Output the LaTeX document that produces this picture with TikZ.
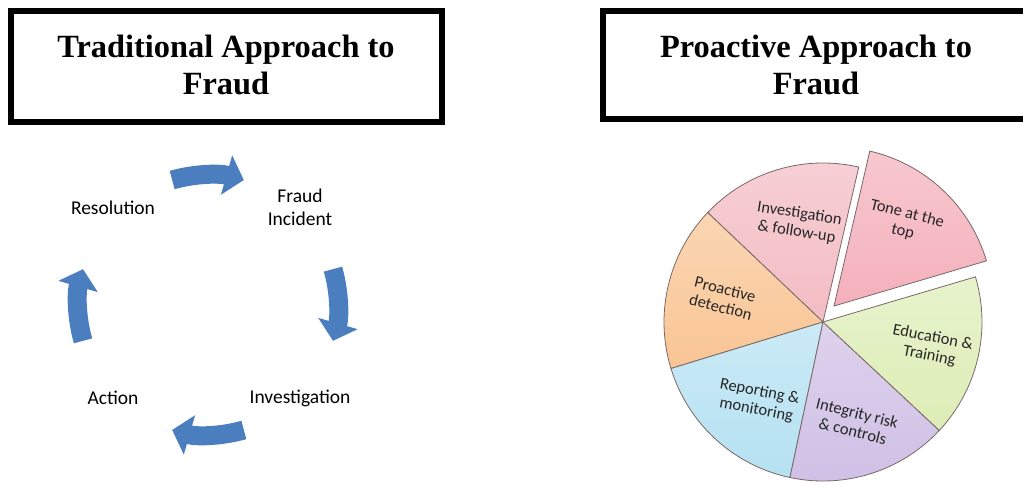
\documentclass[tikz,border=0pt]{standalone}
\usepackage{fontspec}
\setmainfont{Liberation Serif}
\newfontfamily\carl{Carlito}
\usepackage{tikz}
\usetikzlibrary{arrows.meta}
\definecolor{cycblue}{HTML}{4A7EBF}
\definecolor{toneP}{HTML}{F4B0BB}
\definecolor{invP}{HTML}{F3BCC3}
\definecolor{peach}{HTML}{F9C594}
\definecolor{skyb}{HTML}{B5E1F2}
\definecolor{lav}{HTML}{CFBFE5}
\definecolor{lime}{HTML}{DDEDB6}
\definecolor{rim}{HTML}{7A6868}

\begin{document}
\begin{tikzpicture}[x=1pt,y=1pt,
  head/.style={font=\fontsize{32.4}{37}\selectfont\bfseries,align=center},
  cyclab/.style={font=\carl\fontsize{19.5}{23}\selectfont,align=center},
  pielab/.style={font=\carl\fontsize{16.5}{18.5}\selectfont,align=center,text=black!85},
  cycarrow/.style={cycblue,line width=19pt,-{Triangle[length=18pt,width=40pt]}},
  slice/.style={draw=rim,line width=0.8pt}]
\useasboundingbox (0,0) rectangle (1023,485);
\clip (0,0) rectangle (1023,485);
% title boxes
\draw[line width=6pt] (11,474) rectangle (442,363);
\node[head] (trad) at (226,420) {Traditional Approach to\\Fraud};
\draw[line width=6pt] (603,474) rectangle (1040,366);
\node[head] (proa) at (816,420) {Proactive Approach to\\Fraud};
% traditional cycle
\coordinate (cyc) at (208,180);
\node[cyclab] (res) at (113,277) {Resolution};
\node[cyclab] (inc) at (300,278) {Fraud\\Incident};
\node[cyclab] (inv) at (300,87) {Investigation};
\node[cyclab] (act) at (113,87) {Action};
\foreach \s in {106,16,-74,-164}
  \draw[cycarrow] ([shift={(\s:130)}]cyc) arc (\s:\s-32:130);
% proactive pie
\coordinate (pie) at (823,163);
\foreach \a/\b/\col in {77/136.5/invP,136.5/197/peach,197/258/skyb,258/317/lav,317/376.5/lime}
  \shadedraw[slice,top color=\col!70!white,bottom color=\col] (pie) -- ++(\a:159) arc (\a:\b:159) -- cycle;
\shadedraw[slice,top color=toneP!70!white,bottom color=toneP] ([shift={(11,16)}]pie) -- ++(16.5:159) arc (16.5:77:159) -- cycle;
\node[pielab,rotate=-9] (pinv) at (798,262) {Investigation\\\& follow-up};
\node[pielab,rotate=-14] (ptone) at (905,262) {Tone at the\\top};
\node[pielab,rotate=-14] (pdet) at (723,187) {Proactive\\detection};
\node[pielab,rotate=-11] (pedu) at (931,138) {Education \&\\Training};
\node[pielab,rotate=-11] (prep) at (758,84) {Reporting \&\\monitoring};
\node[pielab,rotate=-14] (pint) at (855,63) {Integrity risk\\\& controls};
\end{tikzpicture}
\end{document}
